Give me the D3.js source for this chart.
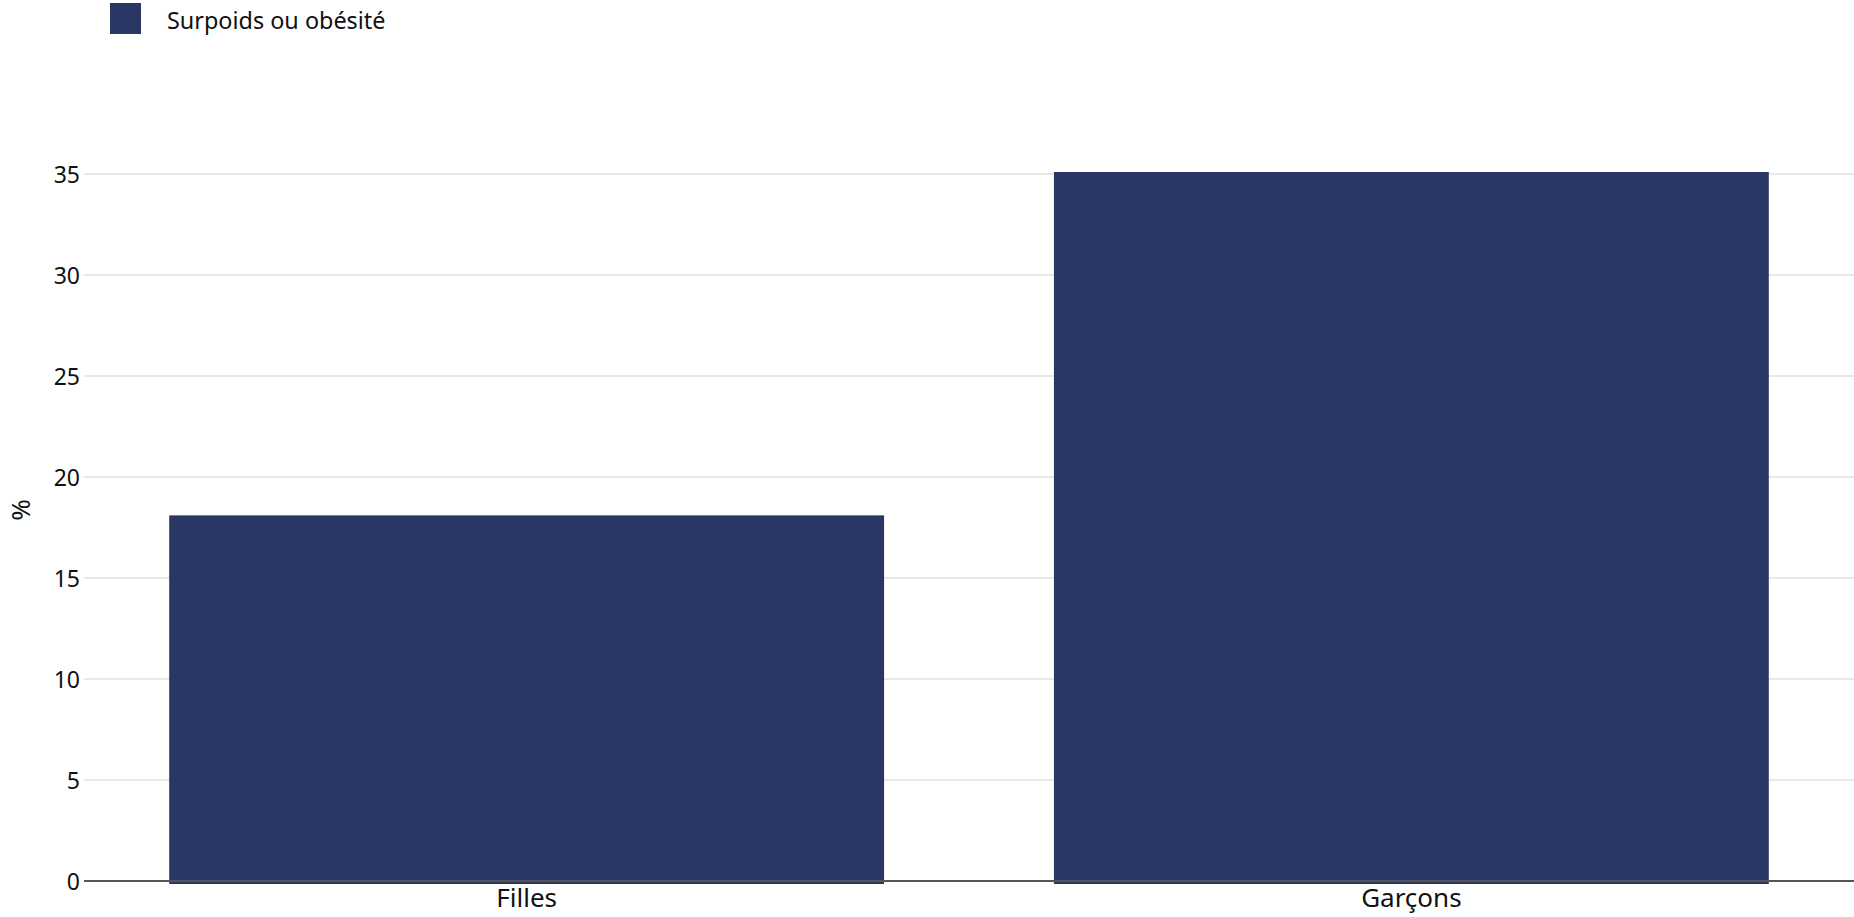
<!DOCTYPE html>
<html lang="fr">
  <head>
    <meta charset="utf-8">
    <title>Surpoids ou obésité</title>
    <script type="text/javascript" src="https://d3js.org/d3.v7.min.js"></script>
    <style>
    body {
      margin:0;
      background-color:#ffffff;
      font-family:"Noto Sans", sans-serif;
    }
    .grid line {
      stroke:#e8e8e8;
      stroke-width:2px;
    }
    .axis text {
      fill:#111111;
    }
    </style>
  </head>
  <body>
    <div id="chart"></div>
    <script type="text/javascript">
    const categories = ["Filles", "Garçons"];
    const values = [18.1, 35.1];
    const yTicks = [0, 5, 10, 15, 20, 25, 30, 35];
    const seriesName = "Surpoids ou obésité";
    const yLabel = "%";

    const width = 1854, height = 917;
    const margin = {'top': 174, 'bottom': 36, 'left': 84, 'right': 0};
    const barColor = "#2a3764";

    const svg = d3.select("#chart").append("svg").attr("width", width).attr("height", height);

    const xScale = d3.scaleBand().domain(categories)
      .range([margin.left, width - margin.right])
      .paddingInner(0.192).paddingOuter(0.0963);
    const yScale = d3.scaleLinear().domain([0, 35]).range([height - margin.bottom, margin.top]);

// グリッド線
    svg.append("g").attr("class", "grid")
      .selectAll("line").data(yTicks.filter(d => d > 0)).join("line")
      .attr("x1", margin.left).attr("x2", width - margin.right)
      .attr("y1", d => yScale(d)).attr("y2", d => yScale(d));

// 棒
    svg.append("g").selectAll("rect").data(values).join("rect")
      .attr("x", (d, i) => xScale(categories[i]))
      .attr("width", xScale.bandwidth())
      .attr("y", d => yScale(d))
      .attr("height", d => yScale(0) - yScale(d) + 3)
      .attr("fill", barColor);

// Y軸
    const yAxis = svg.append("g").attr("class", "axis")
      .attr("transform", `translate(${margin.left},0)`)
      .call(d3.axisLeft(yScale).tickValues(yTicks).tickSize(0).tickPadding(4));
    yAxis.select(".domain").remove();
    yAxis.selectAll("text").attr("font-size", "23px").attr("font-family", "Noto Sans").attr("dy", "0.36em");

// X軸
    const xAxis = svg.append("g").attr("class", "axis")
      .attr("transform", `translate(0,${yScale(0)})`)
      .call(d3.axisBottom(xScale).tickSize(0).tickPadding(8));
    xAxis.select(".domain").remove();
    xAxis.selectAll("text").attr("font-size", "26px").attr("font-family", "Noto Sans").attr("dy", "0.68em");
    svg.append("line")
      .attr("x1", margin.left).attr("x2", width - margin.right)
      .attr("y1", yScale(0)).attr("y2", yScale(0))
      .attr("stroke", "#555555").attr("stroke-width", 2);

// Y軸ラベル
    svg.append("text")
      .attr("transform", `translate(30,510) rotate(-90)`)
      .attr("text-anchor", "middle")
      .attr("font-size", "26px")
      .attr("fill", "#111111")
      .text(yLabel);

// 凡例
    svg.append("rect").attr("x", 110).attr("y", 3).attr("width", 31).attr("height", 31).attr("fill", barColor);
    svg.append("text").attr("x", 167).attr("y", 29).attr("font-size", "23.4px").attr("fill", "#111111").text(seriesName);
    </script>
  </body>
</html>
